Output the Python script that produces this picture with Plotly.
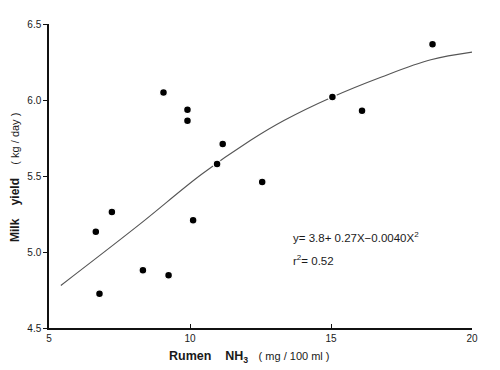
import plotly.graph_objects as go

# Observed data points (Rumen NH3 mg/100ml, Milk yield kg/day)
nh3 = [6.66, 6.79, 7.23, 8.33, 9.06, 9.24, 9.91, 9.91, 10.11, 10.96, 11.16, 12.56, 15.05, 16.1, 18.6]
milk = [5.134, 4.726, 5.263, 4.88, 6.05, 4.847, 5.936, 5.864, 5.209, 5.579, 5.71, 5.46, 6.02, 5.93, 6.366]

# Fitted curve as drawn
curve_x = [5.42, 8.2, 10.4, 12.15, 13.33, 15.05, 16.77, 18.54, 20.2]
curve_y = [4.78, 5.18, 5.51, 5.735, 5.865, 6.02, 6.15, 6.265, 6.32]

x_ticks = [5, 10, 15, 20]
y_ticks = [4.5, 5.0, 5.5, 6.0, 6.5]
y_tick_text = ["4.5", "5.0", "5.5", "6.0", "6.5"]

font_family = "Liberation Sans, Arial, sans-serif"

# page body has an 8px margin; plot area targeted at x 49..472, y 24..328
OFF = 8
PL, PR, PT, PB = 49, 472, 24, 328
W, H = 500 - OFF, 370 - OFF
PW, PH = PR - PL, PB - PT

fig = go.Figure()
fig.add_trace(go.Scatter(
    x=curve_x, y=curve_y, mode="lines",
    line=dict(color="#555555", width=1.1, shape="spline", smoothing=1.0),
    hoverinfo="skip", showlegend=False,
))
fig.add_trace(go.Scatter(
    x=nh3, y=milk, mode="markers",
    marker=dict(color="black", size=8, line=dict(color="white", width=1.5)),
    showlegend=False,
))

fig.update_layout(
    width=W, height=H,
    margin=dict(l=PL - OFF, r=W + OFF - PR, t=PT - OFF, b=H + OFF - PB, autoexpand=False),
    paper_bgcolor="white", plot_bgcolor="white",
    font=dict(family=font_family, size=10, color="#222222"),
    xaxis=dict(
        range=[5, 20], tickvals=x_ticks, ticktext=[str(v) for v in x_ticks],
        showgrid=False, zeroline=False, automargin=False,
        showline=True, linecolor="#111111", linewidth=1.5,
        ticks="inside", ticklen=4, tickcolor="#111111", tickwidth=1,
        tickfont=dict(size=10, color="#1a1a1a"),
    ),
    yaxis=dict(
        range=[4.5, 6.5], tickvals=y_ticks, ticktext=y_tick_text,
        showgrid=False, zeroline=False, automargin=False,
        showline=True, linecolor="#111111", linewidth=1.5,
        ticks="outside", ticklen=4, tickcolor="#111111", tickwidth=1,
        tickfont=dict(size=10, color="#1a1a1a"),
    ),
    annotations=[
        dict(xref="paper", yref="paper", x=(249 - PL) / PW, y=-(357 - PB) / PH,
             xanchor="center", yanchor="middle", showarrow=False,
             text="<b>Rumen    NH<sub>3</sub></b>   <span style='font-size:11px'>( mg / 100 ml )</span>",
             font=dict(size=12.5, color="#1a1a1a")),
        dict(xref="paper", yref="paper", x=-(PL - 15) / PW, y=(PB - 178) / PH,
             xanchor="center", yanchor="middle", showarrow=False, textangle=-90,
             text="<b>Milk    yield</b>    <span style='font-size:11px'>( kg / day )</span>",
             font=dict(size=12, color="#1a1a1a")),
        dict(xref="paper", yref="paper", x=(291 - PL) / PW, y=(PB - 237) / PH,
             xanchor="left", yanchor="middle", showarrow=False,
             text="y= 3.8+ 0.27X−0.0040X<sup>2</sup>",
             font=dict(size=11.5, color="#1a1a1a")),
        dict(xref="paper", yref="paper", x=(291 - PL) / PW, y=(PB - 260) / PH,
             xanchor="left", yanchor="middle", showarrow=False,
             text="r<sup>2</sup>= 0.52",
             font=dict(size=11.5, color="#1a1a1a")),
    ],
)

fig.write_html("out.html")
